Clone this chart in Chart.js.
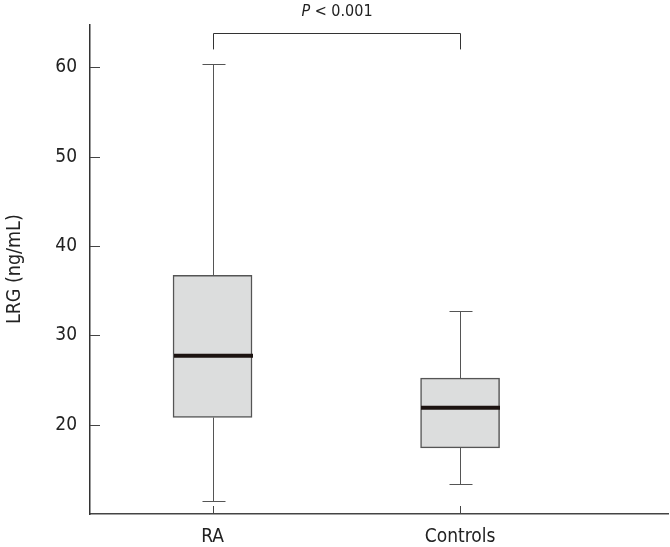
<!DOCTYPE html>
<html>
<head>
<meta charset="utf-8">
<script src="https://cdn.jsdelivr.net/npm/chart.js@4.4.0/dist/chart.umd.min.js"></script>
<style>
  html, body { margin: 0; padding: 0; background: #fff; }
</style>
</head>
<body>
<canvas id="box-chart" width="670" height="547"></canvas>
<script>
// values (LRG, ng/mL)
const categories = ['RA', 'Controls'];
const positions = [1, 2];
const whiskerLow = [11.5, 13.4];
const q1 = [20.8, 17.4];
const median = [27.7, 21.9];
const q3 = [36.7, 25.2];
const whiskerHigh = [60.4, 32.7];
const yTicks = [20, 30, 40, 50, 60];

const FONT = "'Liberation Sans Narrow', 'DejaVu Sans Condensed', sans-serif";
const BOX_W = 79;

// whiskers, medians, inward tick marks and the P bracket
const boxExtras = {
  id: 'boxExtras',
  afterDatasetsDraw(chart) {
    const { ctx, chartArea } = chart;
    const x = chart.scales.x, y = chart.scales.y;
    ctx.save();

    positions.forEach((p, i) => {
      const cx = Math.round(x.getPixelForValue(p)) + 0.5;
      const lo = Math.round(y.getPixelForValue(whiskerLow[i])) + 0.5;
      const hi = Math.round(y.getPixelForValue(whiskerHigh[i])) + 0.5;
      const b1 = y.getPixelForValue(q1[i]);
      const b3 = y.getPixelForValue(q3[i]);
      ctx.strokeStyle = '#555';
      ctx.lineWidth = 1;
      ctx.beginPath();
      ctx.moveTo(cx, b1); ctx.lineTo(cx, lo);
      ctx.moveTo(cx - 11, lo); ctx.lineTo(cx + 12, lo);
      ctx.moveTo(cx, b3); ctx.lineTo(cx, hi);
      ctx.moveTo(cx - 11, hi); ctx.lineTo(cx + 12, hi);
      ctx.stroke();

      const m = y.getPixelForValue(median[i]);
      ctx.strokeStyle = '#1c1311';
      ctx.lineWidth = 4;
      ctx.beginPath();
      ctx.moveTo(cx - BOX_W / 2, m); ctx.lineTo(cx + BOX_W / 2, m);
      ctx.stroke();
    });

    ctx.strokeStyle = '#444';
    ctx.lineWidth = 1;
    ctx.beginPath();
    yTicks.forEach(v => {
      const py = Math.round(y.getPixelForValue(v)) + 0.5;
      ctx.moveTo(chartArea.left, py); ctx.lineTo(chartArea.left + 10, py);
    });
    positions.forEach(p => {
      const px = Math.round(x.getPixelForValue(p)) + 0.5;
      ctx.moveTo(px, chartArea.bottom); ctx.lineTo(px, chartArea.bottom - 8);
    });
    ctx.stroke();

    // significance bracket
    const xa = Math.round(x.getPixelForValue(positions[0])) + 0.5;
    const xb = Math.round(x.getPixelForValue(positions[1])) + 0.5;
    const top = Math.round(y.getPixelForValue(63.8)) + 0.5;
    const drop = y.getPixelForValue(62.0);
    ctx.strokeStyle = '#333';
    ctx.beginPath();
    ctx.moveTo(xa, drop); ctx.lineTo(xa, top); ctx.lineTo(xb, top); ctx.lineTo(xb, drop);
    ctx.stroke();

    ctx.fillStyle = '#222';
    ctx.textBaseline = 'alphabetic';
    const italic = 'italic 16px ' + FONT;
    const plain = '16px ' + FONT;
    ctx.font = italic;
    const wP = ctx.measureText('P').width;
    ctx.font = plain;
    const wRest = ctx.measureText(' < 0.001').width;
    let tx = (xa + xb) / 2 - (wP + wRest) / 2;
    const ty = top - 18;
    ctx.font = italic;
    ctx.fillText('P', tx, ty);
    ctx.font = plain;
    ctx.fillText(' < 0.001', tx + wP, ty);

    ctx.restore();
  }
};

new Chart(document.getElementById('box-chart'), {
  type: 'bar',
  data: {
    datasets: [{
      label: 'LRG',
      data: positions.map((p, i) => ({ x: p, y: [q1[i], q3[i]] })),
      backgroundColor: '#dcdddd',
      borderColor: '#555',
      borderWidth: 1.5,
      borderSkipped: false,
      barThickness: BOX_W
    }]
  },
  options: {
    responsive: false,
    animation: false,
    layout: { padding: { top: 23, right: 2, left: 0, bottom: 0 } },
    plugins: {
      legend: { display: false },
      tooltip: { enabled: false }
    },
    scales: {
      x: {
        type: 'linear',
        offset: false,
        min: 0.505,
        max: 2.84,
        afterBuildTicks: s => { s.ticks = positions.map(v => ({ value: v })); },
        afterFit: s => { s.height = 33; },
        grid: { drawOnChartArea: false, drawTicks: false, offset: false },
        border: { display: true, color: '#444', width: 1.5 },
        ticks: {
          padding: 12,
          color: '#222',
          font: { family: FONT, size: 19 },
          callback: v => categories[positions.indexOf(v)]
        }
      },
      y: {
        min: 10,
        max: 64.8,
        afterBuildTicks: s => { s.ticks = yTicks.map(v => ({ value: v })); },
        afterFit: s => { s.width = 90; },
        grid: { drawOnChartArea: false, drawTicks: false },
        border: { display: true, color: '#333', width: 1.5 },
        ticks: {
          padding: 13,
          color: '#222',
          font: { family: FONT, size: 19 }
        },
        title: {
          display: true,
          text: 'LRG (ng/mL)',
          color: '#222',
          font: { family: FONT, size: 19.5 },
          padding: { top: 3, bottom: 0 }
        }
      }
    }
  },
  plugins: [boxExtras]
});
</script>
</body>
</html>
